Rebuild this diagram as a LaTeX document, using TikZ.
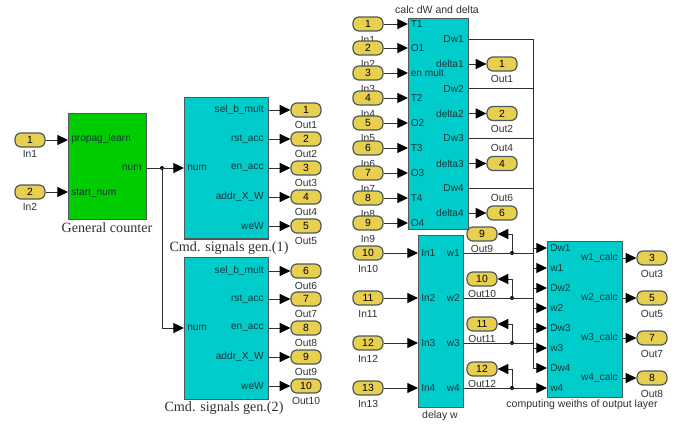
\documentclass[tikz,border=0pt]{standalone}
\usepackage{fontspec}
\setmainfont{Liberation Sans}
\newfontfamily\capserif{Liberation Serif}
\usetikzlibrary{arrows.meta,calc}
\definecolor{cy}{HTML}{00CCCC}
\definecolor{gr}{HTML}{00CC00}
\definecolor{pl}{HTML}{E8CF50}
\definecolor{edgec}{HTML}{4A5A5A}
\definecolor{wirec}{HTML}{303030}
\definecolor{txtc}{HTML}{103838}
\definecolor{lblc}{HTML}{303030}
\tikzset{
 blk/.style={draw=edgec,line width=1.1pt,inner sep=0,anchor=north west},
 pillbox/.style={draw=edgec,fill=pl,line width=0.9pt,rounded corners=4.5pt,minimum width=22.5pt,minimum height=10.5pt,inner sep=0,font=\fontsize{7.8}{8}\selectfont,text=black},
 lbl/.style={font=\fontsize{7.7}{8}\selectfont,text=lblc,inner sep=0},
 prt/.style={font=\fontsize{7.6}{8}\selectfont,text=txtc,inner sep=0},
 captxt/.style={font=\capserif\fontsize{10.6}{12}\selectfont,text=lblc,inner sep=0},
 smallcap/.style={lbl,font=\fontsize{7.9}{8}\selectfont},
 wire/.style={draw=wirec,line width=0.75pt},
 sig/.style={wire,-{Triangle[length=8pt,width=7.5pt,color=black]}},
 dot/.style={circle,fill=black,inner sep=0,minimum size=3pt},
}
\newcommand{\pillat}[6]{% name, x, y, number, label, label dy
  \node[pillbox] (#1) at (#2,#3) {#4};
  \node[lbl] (#1l) at (#2,#3+#6) {#5};
}
\begin{document}
\begin{tikzpicture}[x=0.75pt,y=-0.75pt]
\useasboundingbox (0,0) rectangle (684,425);
% ---- blocks
\node[blk,fill=gr,minimum width=58.5pt,minimum height=79.5pt] (gc) at (68,113) {};
\node[blk,fill=cy,minimum width=63pt,minimum height=106pt] (cmdA) at (184,97) {};
\node[blk,fill=cy,minimum width=63pt,minimum height=106.5pt] (cmdB) at (184,257) {};
\node[blk,fill=cy,minimum width=45pt,minimum height=158.25pt] (calc) at (408,18) {};
\node[blk,fill=cy,minimum width=33.75pt,minimum height=129pt] (dly) at (418,235) {};
\node[blk,fill=cy,minimum width=56.25pt,minimum height=117pt] (comp) at (547,241) {};
% ---- captions
\node[captxt] (capgc) at (107,228) {General counter};
\node[captxt,fill=white,inner xsep=1pt,inner ysep=0.5pt] (capA) at (229,248) {Cmd. signals gen.(1)};
\node[captxt] (capB) at (224,408) {Cmd. signals gen.(2)};
\node[smallcap] (capc) at (437,10) {calc dW and delta};
\node[smallcap] (capd) at (440,416) {delay w};
\node[smallcap] (capm) at (582,405) {computing weiths of output layer};
% ---- left inports
\pillat{a1}{30}{140}{1}{In1}{14}
\pillat{a2}{30}{192}{2}{In2}{15}
\node[prt,anchor=west] (gp) at (71,139) {propag\_learn};
\node[prt,anchor=west] (gs) at (71,193) {start\_num};
\node[prt,anchor=east] (gn) at (142,168) {num};
\draw[sig] (a1) -- (gc.west |- a1);
\draw[sig] (a2) -- (gc.west |- a2);
% ---- cmd A
\foreach \n/\t/\y/\l in {1/sel\_b\_mult/110/Out1,2/rst\_acc/139/Out2,3/en\_acc/168/Out3,4/addr\_X\_W/197/Out4,5/weW/226/Out5}{
  \node[prt,anchor=east] (cA\n) at (264,\y) {\t};
  \pillat{oA\n}{306}{\y}{\n}{\l}{15}
  \draw[sig] (cmdA.east |- oA\n) -- (oA\n.west);
}
\node[prt,anchor=west] (cAn) at (187,168) {num};
% ---- cmd B
\foreach \n/\t/\y/\l/\k in {1/sel\_b\_mult/271/Out6/6,2/rst\_acc/299/Out7/7,3/en\_acc/328/Out8/8,4/addr\_X\_W/357/Out9/9,5/weW/386/Out10/10}{
  \node[prt,anchor=east] (cB\n) at (264,\y) {\t};
  \pillat{oB\n}{306}{\y}{\k}{\l}{15}
  \draw[sig] (cmdB.east |- oB\n) -- (oB\n.west);
}
\node[prt,anchor=west] (cBn) at (187,328) {num};
% num wiring
\node[dot] (jn) at (162,168) {};
\draw[sig] (gc.east |- jn) -- (cmdA.west |- jn);
\draw[sig] (jn) -- (jn |- cBn) -- (cmdB.west |- cBn);
% ---- calc inputs
\foreach \n/\y/\t in {1/24/T1,2/48/O1,3/73/en mult,4/98/T2,5/123/O2,6/148/T3,7/173/O3,8/198/T4,9/223/O4}{
  \pillat{i\n}{368}{\y}{\n}{In\n}{15.5}
}
\foreach \n/\y/\t in {1/24/T1,2/48/O1,3/73/en mult,4/98/T2,5/123/O2,6/148/T3,7/173/O3,8/198/T4,9/223/O4}{
  \node[prt,anchor=west] (cI\n) at (410.5,\y) {\t};
  \draw[sig] (i\n) -- (calc.west |- i\n);
}
% ---- calc outputs
\node[prt,anchor=east] (dw1) at (464,39) {Dw1};
\node[prt,anchor=east] (dw2) at (464,88.5) {Dw2};
\node[prt,anchor=east] (dw3) at (464,138.5) {Dw3};
\node[prt,anchor=east] (dw4) at (464,188.5) {Dw4};
\foreach \n/\y/\k/\l/\d in {1/64/1/Out1/15,2/113.5/2/Out2/15.5,3/163.5/4/Out4/-15.5,4/213/6/Out6/-15}{
  \node[prt,anchor=east] (dl\n) at (464,\y) {delta\n};
  \pillat{oC\n}{502}{\y}{\k}{\l}{\d}
  \draw[sig] (calc.east |- oC\n) -- (oC\n.west);
}
% ---- delay
\foreach \n/\y/\i in {1/253/10,2/298/11,3/343/12,4/388/13}{
  \pillat{d\n}{368}{\y}{\i}{In\i}{15.5}
  \node[prt,anchor=west] (dI\n) at (421,\y) {In\n};
  \node[prt,anchor=east] (dO\n) at (460,\y) {w\n};
  \draw[sig] (d\n) -- (dly.west |- d\n);
}
% ---- delay feedback outports
\foreach \n/\y/\i/\j in {1/234/9/253,2/279/10/298,3/324/11/343,4/369/12/388}{
  \pillat{f\n}{482}{\y}{\i}{Out\i}{15}
  \node[dot] (jf\n) at (512,\j) {};
  \draw[sig] (jf\n) -- (jf\n |- f\n) -- (f\n.east);
}
% ---- compute block ports
\foreach \n/\y/\t in {1/248/Dw1,2/268/w1,3/288/Dw2,4/308/w2,5/328/Dw3,6/348/w3,7/368/Dw4,8/388/w4}{
  \node[prt,anchor=west] (mI\n) at (550,\y) {\t};
}
\foreach \n/\y/\k/\l in {1/258/3/Out3,2/298/5/Out5,3/338/7/Out7,4/378/8/Out8}{
  \node[prt,anchor=east] (mO\n) at (618,\y) {w\n\_calc};
  \pillat{oM\n}{652}{\y}{\k}{\l}{15.5}
  \draw[sig] (comp.east |- oM\n) -- (oM\n.west);
}
% ---- bus
\coordinate (bus) at (533,300);
\draw[wire] (calc.east |- dw1) -- (bus |- dw1) -- (bus |- mI7);
\draw[wire] (calc.east |- dw2) -- (bus |- dw2);
\draw[wire] (calc.east |- dw3) -- (bus |- dw3);
\draw[wire] (calc.east |- dw4) -- (bus |- dw4);
\draw[wire] (dly.east |- dO1) -- (bus |- dO1);
\draw[wire] (dly.east |- dO2) -- (bus |- dO2);
\draw[wire] (dly.east |- dO3) -- (bus |- dO3);
\foreach \n in {1,...,7}{
  \draw[sig] (bus |- mI\n) -- (comp.west |- mI\n);
}
\draw[sig] (dly.east |- dO4) -- (comp.west |- mI8);
\end{tikzpicture}
\end{document}
